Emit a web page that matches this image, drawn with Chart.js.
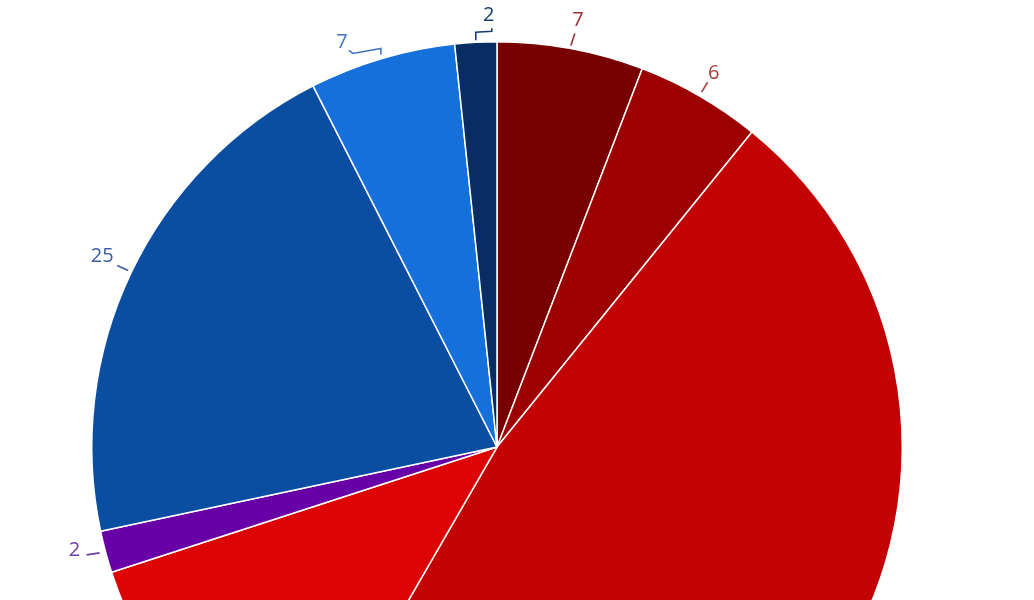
<!DOCTYPE html>
<html>
<head>
<meta charset="utf-8">
<script src="https://cdn.jsdelivr.net/npm/chart.js@4.4.1/dist/chart.umd.min.js"></script>
<style>
html,body{margin:0;padding:0;background:#fff;overflow:hidden;width:1034px;height:600px;}
#wrap{position:absolute;left:0;top:0;width:1034px;height:896px;}
</style>
</head>
<body>
<div id="wrap"><canvas id="c"></canvas></div>
<script>
const categories = ['A','B','C','D','E','F','G','H'];
const seats = [7, 6, 57, 14, 2, 25, 7, 2];
const shownLabels = ['7', '6', '', '', '2', '25', '7', '2'];
const sliceColors = ['#780000','#9c0000','#c30303','#dc0404','#6800a8','#0a4ea2','#1570dc','#082d62'];
const labelColors = ['#943030','#a83c3c','#000','#000','#6e3e9c','#3a5ca2','#3f74c0','#1c3c6c'];
// leader geometry relative to the slice's outer mid point: polyline points then text offset
const leaderGeom = [
  {pts:[[0,-3],[4,-15]], text:[7,-28]},
  {pts:[[2,-4],[8,-14]], text:[14,-23]},
  null, null,
  {pts:[[-19,3],[-6,1]], text:[-31,-2]},
  {pts:[[-3,-2],[-14,-7]], text:[-29,-16]},
  {pts:[[-1,-4],[-1,-10],[-29,-5],[-33,-8]], text:[-40,-16]},
  {pts:[[0,-2],[0,-10],[16,-11],[16,-14]], text:[13,-27]}
];

const labelPlugin = {
  id: 'leaderLabels',
  afterDatasetsDraw(chart) {
    const ctx = chart.ctx;
    const meta = chart.getDatasetMeta(0);
    meta.data.forEach((arc, i) => {
      const g = leaderGeom[i];
      if (!g || !shownLabels[i]) return;
      const p = arc.getProps(['x','y','startAngle','endAngle','outerRadius'], true);
      const mid = (p.startAngle + p.endAngle) / 2;
      const ax = p.x + Math.cos(mid) * p.outerRadius;
      const ay = p.y + Math.sin(mid) * p.outerRadius;
      ctx.save();
      ctx.strokeStyle = labelColors[i];
      ctx.lineWidth = 1.6;
      ctx.beginPath();
      g.pts.forEach((q, k) => {
        if (k === 0) ctx.moveTo(ax + q[0], ay + q[1]);
        else ctx.lineTo(ax + q[0], ay + q[1]);
      });
      ctx.stroke();
      ctx.fillStyle = labelColors[i];
      ctx.font = '20px "Open Sans", sans-serif';
      ctx.textAlign = 'center';
      ctx.textBaseline = 'middle';
      ctx.fillText(shownLabels[i], ax + g.text[0], ay + g.text[1]);
      ctx.restore();
    });
  }
};

new Chart(document.getElementById('c'), {
  type: 'pie',
  data: {
    labels: categories,
    datasets: [{
      data: seats,
      backgroundColor: sliceColors,
      borderColor: '#ffffff',
      borderWidth: 1.5
    }]
  },
  options: {
    responsive: true,
    maintainAspectRatio: false,
    animation: false,
    layout: { padding: { left: 0, right: 40, top: 41, bottom: 43 } },
    plugins: {
      legend: { display: false },
      tooltip: { enabled: false },
      title: { display: false }
    }
  },
  plugins: [labelPlugin]
});
</script>
</body>
</html>
